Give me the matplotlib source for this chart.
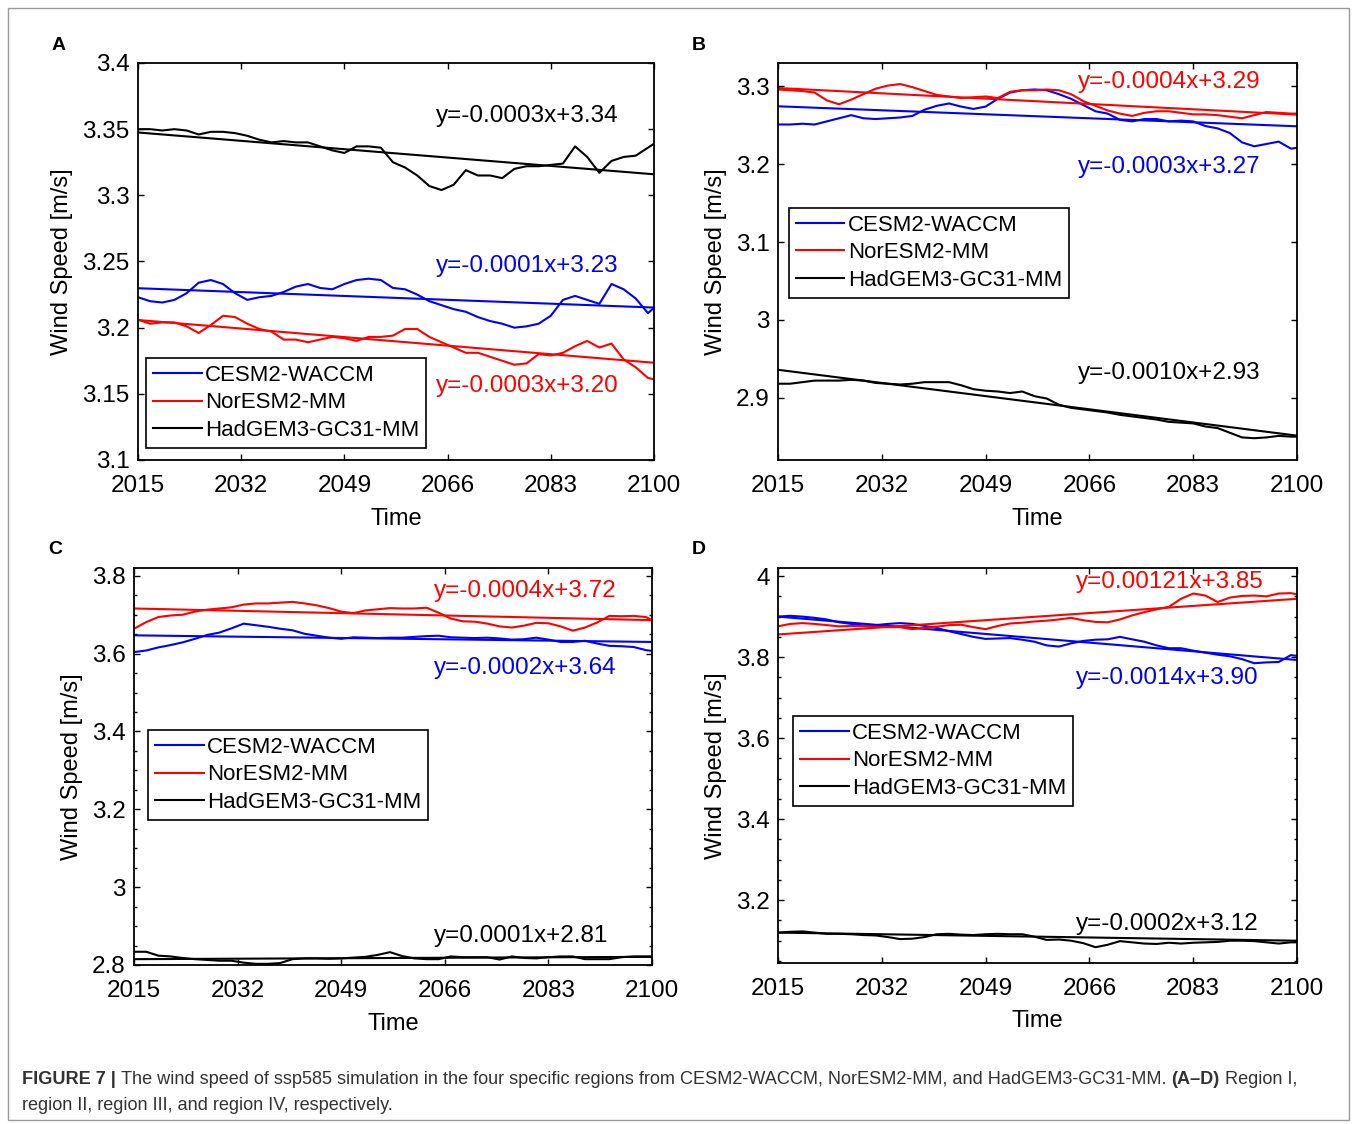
import numpy as np
import matplotlib
matplotlib.use('Agg')
import matplotlib.pyplot as plt
from matplotlib.ticker import MultipleLocator, AutoMinorLocator, FuncFormatter
from matplotlib.patches import Rectangle

plt.rcParams['font.family'] = ['Liberation Sans', 'DejaVu Sans']

W, H = 1357, 1124

# years sampled every two years (annual model output, smoothed)
years = list(range(2015, 2100, 2)) + [2100]

models = ['CESM2-WACCM', 'NorESM2-MM', 'HadGEM3-GC31-MM']
colors = ['#0000ff', '#ff0000', '#000000']

# Panel A - region I
a_cesm = [3.223, 3.220, 3.219, 3.221, 3.226, 3.234, 3.236, 3.233, 3.226, 3.221,
          3.223, 3.224, 3.227, 3.231, 3.233, 3.230, 3.229, 3.233, 3.236, 3.237,
          3.236, 3.230, 3.229, 3.225, 3.220, 3.217, 3.214, 3.212, 3.208, 3.205,
          3.203, 3.200, 3.201, 3.203, 3.209, 3.221, 3.224, 3.221, 3.218, 3.233,
          3.229, 3.222, 3.211, 3.215]
a_nor = [3.206, 3.203, 3.204, 3.204, 3.201, 3.196, 3.202, 3.209, 3.208, 3.203,
         3.199, 3.197, 3.191, 3.191, 3.189, 3.191, 3.193, 3.192, 3.190, 3.193,
         3.193, 3.194, 3.199, 3.199, 3.193, 3.189, 3.185, 3.181, 3.181, 3.178,
         3.175, 3.172, 3.173, 3.180, 3.179, 3.181, 3.186, 3.190, 3.185, 3.188,
         3.176, 3.170, 3.162, 3.161]
a_had = [3.350, 3.350, 3.349, 3.350, 3.349, 3.346, 3.348, 3.348, 3.347, 3.345,
         3.342, 3.340, 3.341, 3.340, 3.340, 3.337, 3.334, 3.332, 3.337, 3.337,
         3.336, 3.325, 3.321, 3.315, 3.307, 3.304, 3.308, 3.319, 3.315, 3.315,
         3.313, 3.320, 3.322, 3.322, 3.323, 3.324, 3.337, 3.329, 3.317, 3.326,
         3.329, 3.330, 3.336, 3.339]
a_eqs = ['y=-0.0001x+3.23', 'y=-0.0003x+3.20', 'y=-0.0003x+3.34']
# fitted trend line at 2015 and at 2100 (CESM2, NorESM2, HadGEM3)
a_trend_start = [3.2298, 3.2058, 3.3475]
a_trend_end = [3.2152, 3.1735, 3.3159]

# Panel B - region II
b_cesm = [3.251, 3.251, 3.252, 3.251, 3.255, 3.259, 3.263, 3.259, 3.258, 3.259,
          3.260, 3.262, 3.270, 3.275, 3.278, 3.274, 3.271, 3.274, 3.284, 3.292,
          3.295, 3.296, 3.295, 3.290, 3.284, 3.276, 3.268, 3.265, 3.257, 3.255,
          3.258, 3.258, 3.255, 3.256, 3.255, 3.249, 3.246, 3.240, 3.228, 3.223,
          3.226, 3.229, 3.220, 3.221]
b_nor = [3.296, 3.295, 3.294, 3.292, 3.282, 3.277, 3.283, 3.290, 3.297, 3.301,
         3.303, 3.299, 3.294, 3.289, 3.287, 3.285, 3.286, 3.287, 3.285, 3.293,
         3.295, 3.295, 3.296, 3.295, 3.290, 3.281, 3.275, 3.269, 3.265, 3.262,
         3.266, 3.268, 3.268, 3.266, 3.264, 3.264, 3.263, 3.261, 3.259, 3.263,
         3.267, 3.266, 3.265, 3.265]
b_had = [2.918, 2.918, 2.920, 2.922, 2.922, 2.922, 2.923, 2.922, 2.919, 2.918,
         2.917, 2.918, 2.920, 2.920, 2.920, 2.916, 2.911, 2.909, 2.908, 2.906,
         2.908, 2.902, 2.899, 2.891, 2.887, 2.885, 2.883, 2.881, 2.878, 2.876,
         2.874, 2.872, 2.869, 2.868, 2.867, 2.863, 2.861, 2.855, 2.849, 2.848,
         2.849, 2.851, 2.850, 2.850]
b_eqs = ['y=-0.0003x+3.27', 'y=-0.0004x+3.29', 'y=-0.0010x+2.93']
b_trend_start = [3.2744, 3.2979, 2.9359]
b_trend_end = [3.2487, 3.2637, 2.8513]

# Panel C - region III
c_cesm = [3.604, 3.608, 3.616, 3.622, 3.629, 3.638, 3.648, 3.654, 3.665, 3.677,
          3.673, 3.669, 3.664, 3.660, 3.651, 3.646, 3.641, 3.638, 3.642, 3.641,
          3.640, 3.641, 3.641, 3.643, 3.645, 3.646, 3.642, 3.641, 3.640, 3.641,
          3.639, 3.636, 3.637, 3.641, 3.636, 3.630, 3.630, 3.633, 3.626, 3.620,
          3.619, 3.617, 3.609, 3.607]
c_nor = [3.664, 3.681, 3.694, 3.698, 3.700, 3.708, 3.713, 3.716, 3.719, 3.726,
         3.729, 3.729, 3.731, 3.733, 3.729, 3.724, 3.717, 3.708, 3.704, 3.711,
         3.714, 3.717, 3.716, 3.716, 3.718, 3.705, 3.690, 3.683, 3.682, 3.677,
         3.670, 3.667, 3.672, 3.679, 3.678, 3.670, 3.659, 3.667, 3.680, 3.697,
         3.696, 3.697, 3.694, 3.686]
c_had = [2.834, 2.834, 2.824, 2.822, 2.818, 2.815, 2.813, 2.811, 2.811, 2.806,
         2.803, 2.803, 2.805, 2.815, 2.817, 2.817, 2.816, 2.817, 2.819, 2.821,
         2.826, 2.833, 2.823, 2.817, 2.815, 2.815, 2.822, 2.820, 2.820, 2.820,
         2.814, 2.822, 2.818, 2.817, 2.820, 2.822, 2.822, 2.815, 2.815, 2.815,
         2.820, 2.822, 2.822, 2.822]
c_eqs = ['y=-0.0002x+3.64', 'y=-0.0004x+3.72', 'y=0.0001x+2.81']
c_trend_start = [3.647, 3.716, 2.815]
c_trend_end = [3.630, 3.686, 2.821]

# Panel D - region IV
d_cesm = [3.900, 3.902, 3.900, 3.897, 3.893, 3.886, 3.882, 3.878, 3.879, 3.882,
          3.884, 3.882, 3.877, 3.872, 3.864, 3.857, 3.850, 3.845, 3.846, 3.847,
          3.843, 3.838, 3.829, 3.826, 3.834, 3.840, 3.843, 3.844, 3.850, 3.844,
          3.838, 3.829, 3.822, 3.822, 3.816, 3.811, 3.806, 3.802, 3.795, 3.785,
          3.787, 3.788, 3.805, 3.803]
d_nor = [3.876, 3.882, 3.884, 3.882, 3.879, 3.876, 3.877, 3.877, 3.875, 3.874,
         3.874, 3.869, 3.872, 3.875, 3.879, 3.880, 3.874, 3.869, 3.877, 3.883,
         3.885, 3.888, 3.890, 3.893, 3.897, 3.891, 3.887, 3.886, 3.893, 3.903,
         3.911, 3.918, 3.924, 3.944, 3.957, 3.952, 3.936, 3.947, 3.951, 3.952,
         3.950, 3.957, 3.958, 3.955]
d_had = [3.120, 3.122, 3.123, 3.120, 3.117, 3.117, 3.116, 3.114, 3.113, 3.109,
         3.104, 3.105, 3.109, 3.116, 3.117, 3.115, 3.114, 3.116, 3.117, 3.116,
         3.116, 3.110, 3.102, 3.103, 3.100, 3.094, 3.084, 3.090, 3.099, 3.096,
         3.093, 3.092, 3.095, 3.093, 3.095, 3.096, 3.097, 3.100, 3.100, 3.099,
         3.096, 3.093, 3.096, 3.096]
d_eqs = ['y=-0.0014x+3.90', 'y=0.00121x+3.85', 'y=-0.0002x+3.12']
d_trend_start = [3.900, 3.856, 3.120]
d_trend_end = [3.793, 3.944, 3.100]

xticks = [2015, 2032, 2049, 2066, 2083, 2100]

# layout: pixel boxes (left, top, right, bottom), limits, text spots in axes fraction
panels = [
    dict(letter='A', box=(138, 63, 654, 460), ylim=(3.1, 3.4), step=0.05, minor=False,
         series=[a_cesm, a_nor, a_had], eqs=a_eqs,
         t0=a_trend_start, t1=a_trend_end,
         eq_x=0.578, eq_y=[0.489, 0.186, 0.866], leg=(0.0155, 0.257), ylab=-0.126),
    dict(letter='B', box=(778, 63, 1297, 460), ylim=(2.82, 3.33), step=0.1, minor=False,
         series=[b_cesm, b_nor, b_had], eqs=b_eqs,
         t0=b_trend_start, t1=b_trend_end,
         eq_x=0.578, eq_y=[0.738, 0.952, 0.219], leg=(0.021, 0.635), ylab=-0.098),
    dict(letter='C', box=(134, 568, 652, 965), ylim=(2.8, 3.82), step=0.2, minor=True,
         series=[c_cesm, c_nor, c_had], eqs=c_eqs,
         t0=c_trend_start, t1=c_trend_end,
         eq_x=0.579, eq_y=[0.748, 0.942, 0.073], leg=(0.027, 0.592), ylab=-0.098),
    dict(letter='D', box=(778, 568, 1297, 963), ylim=(3.045, 4.02), step=0.2, minor=True,
         series=[d_cesm, d_nor, d_had], eqs=d_eqs,
         t0=d_trend_start, t1=d_trend_end,
         eq_x=0.574, eq_y=[0.722, 0.965, 0.099], leg=(0.029, 0.625), ylab=-0.098),
]

fmt = FuncFormatter(lambda v, _: '%g' % round(v, 4))

fig = plt.figure(figsize=(W / 100, H / 100), dpi=100)

for p in panels:
    l, t, r, b = p['box']
    ax = fig.add_axes([l / W, 1 - b / H, (r - l) / W, (b - t) / H])
    handles = []
    for vals, y0, y1, col, name in zip(p['series'], p['t0'], p['t1'], colors, models):
        h, = ax.plot(years, vals, color=col, lw=1.5, label=name)
        handles.append(h)
        # linear trend
        ax.plot([years[0], years[-1]], [y0, y1], color=col, lw=1.5)
    for eq, col, ye in zip(p['eqs'], colors, p['eq_y']):
        ax.text(p['eq_x'], ye, eq, color=col, fontsize=17.5, transform=ax.transAxes,
                ha='left', va='center')
    ax.set_xlim(2015, 2100)
    ax.set_ylim(*p['ylim'])
    ax.set_xticks(xticks)
    ax.yaxis.set_major_locator(MultipleLocator(p['step']))
    ax.yaxis.set_major_formatter(fmt)
    if p['minor']:
        ax.yaxis.set_minor_locator(AutoMinorLocator(4))
    ax.tick_params(which='both', direction='in', top=True, right=True,
                   labelsize=17.5, width=1)
    ax.tick_params(which='major', length=4.5)
    ax.tick_params(axis='y', which='major', pad=6)
    ax.tick_params(axis='x', which='major', pad=11)
    ax.tick_params(which='minor', length=2.5)
    for s in ax.spines.values():
        s.set_linewidth(1.3)
    ax.set_xlabel('Time', fontsize=17)
    ax.set_ylabel('Wind Speed [m/s]', fontsize=17)
    ax.xaxis.set_label_coords(0.5, -0.12)
    ax.yaxis.set_label_coords(p['ylab'], 0.5)
    leg = ax.legend(handles=handles, loc='upper left', bbox_to_anchor=p['leg'],
                    borderaxespad=0, fontsize=16, fancybox=False, framealpha=1,
                    edgecolor='black', handlelength=2.2, handletextpad=0.15,
                    labelspacing=0.3, borderpad=0.3)
    leg.get_frame().set_linewidth(1.2)
    fig.text((l - 86) / W, 1 - (t - 18) / H, p['letter'], fontsize=14,
             fontweight='bold', ha='left', va='center')

# outer frame
fig.patches.append(Rectangle((8 / W, 1 - 1120 / H), 1341 / W, 1112 / H,
                             transform=fig.transFigure, fill=False,
                             edgecolor='#9a9a9a', lw=1))

# caption
cap1 = [('FIGURE 7 |', 'bold'),
        ('The wind speed of ssp585 simulation in the four specific regions from '
         'CESM2-WACCM, NorESM2-MM, and HadGEM3-GC31-MM.', 'normal'),
        ('(A\u2013D)', 'bold'),
        ('Region I,', 'normal')]
cap2 = [('region II, region III, and region IV, respectively.', 'normal')]

renderer = fig.canvas.get_renderer()


def write_line(pieces, y, size):
    x = 22
    made = []
    for txt, wt in pieces:
        tt = fig.text(x / W, 1 - y / H, txt, fontsize=size, fontweight=wt,
                      color='#333333', ha='left', va='center')
        made.append(tt)
        x += tt.get_window_extent(renderer).width + size * 0.28 * 100 / 72
    return x, made


end, made = write_line(cap1, 1080, 12)
for tt in made:
    tt.remove()
size = 12 * (1300 - 22) / (end - 22 - 12 * 0.28 * 100 / 72)
write_line(cap1, 1080, size)
write_line(cap2, 1105, size)

fig.savefig('out.png', dpi=100)
